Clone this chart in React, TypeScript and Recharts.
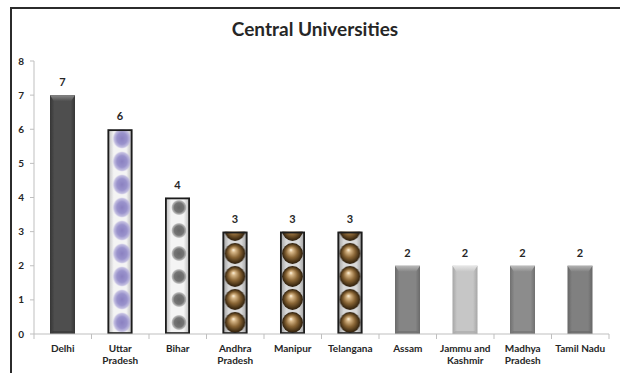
import React from 'react';
import { BarChart, Bar, XAxis, YAxis, LabelList } from 'recharts';

// Central universities per state
const states = [
  'Delhi',
  'Uttar Pradesh',
  'Bihar',
  'Andhra Pradesh',
  'Manipur',
  'Telangana',
  'Assam',
  'Jammu and Kashmir',
  'Madhya Pradesh',
  'Tamil Nadu',
];
const universities = [7, 6, 4, 3, 3, 3, 2, 2, 2, 2];
const tickLines = [
  ['Delhi'],
  ['Uttar', 'Pradesh'],
  ['Bihar'],
  ['Andhra', 'Pradesh'],
  ['Manipur'],
  ['Telangana'],
  ['Assam'],
  ['Jammu and', 'Kashmir'],
  ['Madhya', 'Pradesh'],
  ['Tamil Nadu'],
];
const yTicks = [0, 1, 2, 3, 4, 5, 6, 7, 8];

const data = states.map((name, i) => ({ name, value: universities[i] }));

type Look =
  | { kind: 'bevel'; edge: string; mid: string; top: string }
  | { kind: 'blob' }
  | { kind: 'dot' }
  | { kind: 'sphere' };

// Fill style of each bar, in category order
const barLooks: Look[] = [
  { kind: 'bevel', edge: '#363636', mid: '#4e4e4e', top: '#8a8a8a' },
  { kind: 'blob' },
  { kind: 'dot' },
  { kind: 'sphere' },
  { kind: 'sphere' },
  { kind: 'sphere' },
  { kind: 'bevel', edge: '#6a6a6a', mid: '#858585', top: '#b8b8b8' },
  { kind: 'bevel', edge: '#a6a6a6', mid: '#c6c6c6', top: '#e6e6e6' },
  { kind: 'bevel', edge: '#707070', mid: '#8c8c8c', top: '#bdbdbd' },
  { kind: 'bevel', edge: '#666666', mid: '#808080', top: '#b2b2b2' },
];

const FONT = 'Lato, "Open Sans", sans-serif';
const TEXT = '#262626';
const AXIS = '#bfbfbf';
const PERIOD = 23;

const BevelBar = ({ x, y, w, h, id, look }: any) => {
  const b = Math.min(6, h / 4);
  return (
    <g>
      <defs>
        <linearGradient id={`${id}-body`} x1="0" y1="0" x2="1" y2="0">
          <stop offset="0" stopColor={look.edge} />
          <stop offset="0.18" stopColor={look.mid} />
          <stop offset="0.82" stopColor={look.mid} />
          <stop offset="1" stopColor={look.edge} />
        </linearGradient>
        <linearGradient id={`${id}-top`} x1="0" y1="0" x2="0" y2="1">
          <stop offset="0" stopColor={look.top} />
          <stop offset="1" stopColor={look.mid} />
        </linearGradient>
      </defs>
      <rect x={x} y={y} width={w} height={h} fill={`url(#${id}-body)`} />
      <polygon
        points={`${x},${y} ${x + w},${y} ${x + w - 4},${y + b} ${x + 4},${y + b}`}
        fill={`url(#${id}-top)`}
      />
      <polygon
        points={`${x},${y + h} ${x + w},${y + h} ${x + w - 3},${y + h - 3} ${x + 3},${y + h - 3}`}
        fill={look.edge}
        opacity={0.6}
      />
    </g>
  );
};

const FramedBar = ({ x, y, w, h, id, look }: any) => {
  const bottom = y + h;
  const sphere = look.kind === 'sphere';
  let motif: React.ReactNode = null;
  let ballDefs: React.ReactNode = null;
  if (sphere) {
    ballDefs = (
      <radialGradient id={`${id}-ball`} cx="0.5" cy="0.5" r="0.5" fx="0.42" fy="0.32">
        <stop offset="0" stopColor="#fff8e6" />
        <stop offset="0.18" stopColor="#d9b98a" />
        <stop offset="0.55" stopColor="#8a6636" />
        <stop offset="0.85" stopColor="#4a3417" />
        <stop offset="1" stopColor="#2a1c0c" />
      </radialGradient>
    );
    motif = <circle cx={w / 2} cy={PERIOD / 2} r={10.4} fill={`url(#${id}-ball)`} />;
  } else if (look.kind === 'blob') {
    ballDefs = (
      <radialGradient id={`${id}-ball`} cx="0.5" cy="0.5" r="0.5">
        <stop offset="0" stopColor="#8a80c0" />
        <stop offset="0.55" stopColor="#9a93cc" />
        <stop offset="0.85" stopColor="#b8b2dc" stopOpacity="0.8" />
        <stop offset="1" stopColor="#d8d4ee" stopOpacity="0" />
      </radialGradient>
    );
    motif = (
      <ellipse cx={w * 0.58} cy={PERIOD / 2} rx={9.5} ry={10.5} fill={`url(#${id}-ball)`} />
    );
  } else {
    ballDefs = (
      <radialGradient id={`${id}-ball`} cx="0.5" cy="0.5" r="0.5">
        <stop offset="0" stopColor="#666666" />
        <stop offset="0.6" stopColor="#757575" />
        <stop offset="0.85" stopColor="#9a9a9a" stopOpacity="0.7" />
        <stop offset="1" stopColor="#cccccc" stopOpacity="0" />
      </radialGradient>
    );
    motif = <circle cx={w * 0.56} cy={PERIOD / 2} r={8} fill={`url(#${id}-ball)`} />;
  }
  return (
    <g>
      <defs>
        <linearGradient id={`${id}-bg`} x1="0" y1="0" x2="1" y2="0">
          <stop offset="0" stopColor={sphere ? '#9a9a9a' : '#b5b5b5'} />
          <stop offset="0.25" stopColor={sphere ? '#d8d8d8' : '#f4f4f4'} />
          <stop offset="0.75" stopColor={sphere ? '#d8d8d8' : '#f4f4f4'} />
          <stop offset="1" stopColor={sphere ? '#9a9a9a' : '#b5b5b5'} />
        </linearGradient>
        {ballDefs}
        <pattern
          id={`${id}-pat`}
          patternUnits="userSpaceOnUse"
          x={x}
          y={bottom}
          width={w}
          height={PERIOD}
        >
          {motif}
        </pattern>
      </defs>
      <rect x={x} y={y} width={w} height={h} fill={`url(#${id}-bg)`} />
      <rect x={x} y={y} width={w} height={h} fill={`url(#${id}-pat)`} />
      <rect
        x={x + 0.9}
        y={y + 0.9}
        width={w - 1.8}
        height={h - 1.8}
        fill="none"
        stroke="#1c1c1c"
        strokeWidth={1.8}
      />
    </g>
  );
};

const BarShape = (props: any) => {
  const { x, y, width, height, index } = props;
  const look = barLooks[index];
  const id = `bar-${index}`;
  if (look.kind === 'bevel') {
    return <BevelBar x={x} y={y} w={width} h={height} id={id} look={look} />;
  }
  return <FramedBar x={x} y={y} w={width} h={height} id={id} look={look} />;
};

const XTick = (props: any) => {
  const { x, y, payload, index } = props;
  const i = payload?.index ?? index;
  const lines = tickLines[i] || [String(payload?.value ?? '')];
  const half = payload?.offset ?? 28.75;
  const last = i === states.length - 1;
  return (
    <g>
      <line x1={x - half} x2={x - half} y1={y} y2={y + 5} stroke={AXIS} />
      {last && <line x1={x + half} x2={x + half} y1={y} y2={y + 5} stroke={AXIS} />}
      {lines.map((t: string, k: number) => (
        <text
          key={k}
          x={x}
          y={y + 17.5 + k * 12.7}
          textAnchor="middle"
          fontFamily={FONT}
          fontWeight={700}
          fontSize={10}
          fill={TEXT}
        >
          {t}
        </text>
      ))}
    </g>
  );
};

export default function App() {
  return (
    <div style={{ position: 'absolute', left: 0, top: 0, width: 620, height: 373, background: '#fff' }}>
      <div
        style={{
          position: 'absolute',
          left: 10,
          top: 7,
          width: 620,
          height: 364,
          borderTop: '2px solid #2b2b2b',
          borderLeft: '2px solid #2b2b2b',
          borderBottom: '1px solid #d0d0d0',
        }}
      />
      <div
        style={{
          position: 'absolute',
          left: 10,
          width: 610,
          top: 17,
          textAlign: 'center',
          fontFamily: FONT,
          fontWeight: 700,
          fontSize: 19,
          color: TEXT,
          lineHeight: '24px',
        }}
      >
        Central Universities
      </div>
      <div style={{ position: 'absolute', left: 0, top: 0 }}>
        <BarChart
          width={620}
          height={373}
          data={data}
          margin={{ top: 61, right: 11, left: 0, bottom: 9 }}
          barSize={25}
        >
          <XAxis
            dataKey="name"
            height={30}
            interval={0}
            tickLine={false}
            tickSize={0}
            tickMargin={0}
            axisLine={{ stroke: AXIS }}
            tick={<XTick />}
          />
          <YAxis
            width={34}
            domain={[0, 8]}
            ticks={yTicks}
            interval={0}
            tickSize={4}
            tickMargin={6}
            axisLine={{ stroke: AXIS }}
            tickLine={{ stroke: AXIS }}
            tick={{ fontFamily: FONT, fontWeight: 700, fontSize: 10, fill: TEXT }}
          />
          <Bar dataKey="value" shape={<BarShape />} isAnimationActive={false}>
            <LabelList
              dataKey="value"
              position="top"
              offset={9}
              fontFamily={FONT}
              fontWeight={700}
              fontSize={11}
              fill={TEXT}
            />
          </Bar>
        </BarChart>
      </div>
    </div>
  );
}
